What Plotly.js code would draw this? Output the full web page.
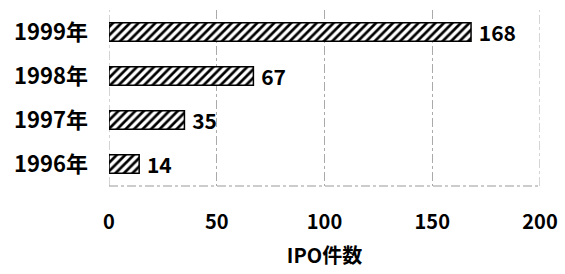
<!DOCTYPE html>
<html><head><meta charset="utf-8">
<script src="https://cdn.plot.ly/plotly-3.0.1.min.js"></script>
<style>html,body{margin:0;padding:0;background:#fff}</style>
</head><body>
<div id="chart" style="width:565px;height:274px"></div>
<script>
const categories = ["1996年", "1997年", "1998年", "1999年"];
const ipoCounts = [14, 35, 67, 168];
const xTicks = [0, 50, 100, 150, 200];
const xTitle = "IPO件数";

const fontFam = "'Noto Sans CJK JP', 'Liberation Sans', sans-serif";

const trace = {
  type: "bar",
  orientation: "h",
  y: categories,
  x: ipoCounts,
  width: 0.42,
  text: ipoCounts.map(v => " " + v),
  textposition: "outside",
  constraintext: "none",
  cliponaxis: false,
  textfont: {family: fontFam, size: 21, color: "#000", weight: "bold"},
  marker: {
    color: "#fff",
    line: {color: "#000", width: 1.5},
    pattern: {shape: "/", fgcolor: "#000", bgcolor: "#fff", size: 6, solidity: 0.45}
  },
  hoverinfo: "none"
};

const gridLine = v => ({
  type: "line", xref: "x", yref: "paper", x0: v, x1: v, y0: 0, y1: 1,
  line: {color: "#aaa", width: 1, dash: "dashdot"}, layer: "below"
});

const layout = {
  width: 565, height: 274,
  margin: {l: 109, r: 25, t: 10, b: 88},
  paper_bgcolor: "#fff", plot_bgcolor: "#fff",
  showlegend: false,
  font: {family: fontFam, color: "#000"},
  xaxis: {
    range: [0, 200],
    tickvals: xTicks,
    ticktext: xTicks.map(String),
    tickfont: {family: fontFam, size: 20, weight: "bold"},
    ticklabelstandoff: 22,
    showgrid: true, gridcolor: "#aaa", griddash: "dashdot", gridwidth: 1,
    zeroline: false,
    showline: false,
    ticks: "",
    title: {text: xTitle, font: {family: fontFam, size: 20, weight: "bold"}, standoff: 14},
    fixedrange: true
  },
  yaxis: {
    type: "category",
    range: [-0.5, 3.5],
    tickfont: {family: fontFam, size: 22, weight: "bold"},
    ticklabelstandoff: 20,
    showgrid: false,
    showline: false,
    zeroline: false,
    ticks: "",
    fixedrange: true
  },
  shapes: [
    gridLine(xTicks[0]),
    gridLine(xTicks[xTicks.length - 1]),
    {type: "line", xref: "paper", yref: "paper", x0: 0, x1: 1, y0: 0, y1: 0,
     line: {color: "#999", width: 1, dash: "dashdot"}, layer: "below"}
  ]
};

Plotly.newPlot("chart", [trace], layout, {displayModeBar: false, staticPlot: true});
</script>
</body></html>
